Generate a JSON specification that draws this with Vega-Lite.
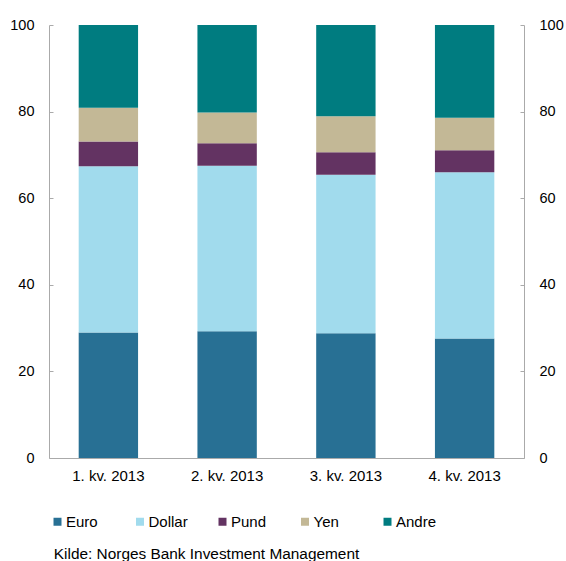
{
  "$schema": "https://vega.github.io/schema/vega-lite/v6.json",
  "width": 475,
  "height": 433,
  "autosize": {"type": "none"},
  "padding": {"left": 49, "top": 25, "right": 42, "bottom": 103},
  "background": "white",
  "config": {
    "view": {"stroke": null},
    "font": "Liberation Sans",
    "axis": {"labelFont": "Liberation Sans", "labelFontSize": 14.5, "labelColor": "#000", "grid": false, "domainColor": "#aaaaaa", "tickColor": "#aaaaaa"}
  },
  "title": {"text": "Kilde: Norges Bank Investment Management", "orient": "bottom", "anchor": "start", "fontSize": 15.4, "fontWeight": "normal", "font": "Liberation Sans", "color": "#000", "offset": 17, "dx": 44},
  "data": {"values": [
    {"kv": "1. kv. 2013", "valuta": "Euro", "o": 1, "v": 29.0},
    {"kv": "1. kv. 2013", "valuta": "Dollar", "o": 2, "v": 38.4},
    {"kv": "1. kv. 2013", "valuta": "Pund", "o": 3, "v": 5.7},
    {"kv": "1. kv. 2013", "valuta": "Yen", "o": 4, "v": 7.8},
    {"kv": "1. kv. 2013", "valuta": "Andre", "o": 5, "v": 19.1},
    {"kv": "2. kv. 2013", "valuta": "Euro", "o": 1, "v": 29.3},
    {"kv": "2. kv. 2013", "valuta": "Dollar", "o": 2, "v": 38.2},
    {"kv": "2. kv. 2013", "valuta": "Pund", "o": 3, "v": 5.2},
    {"kv": "2. kv. 2013", "valuta": "Yen", "o": 4, "v": 7.1},
    {"kv": "2. kv. 2013", "valuta": "Andre", "o": 5, "v": 20.2},
    {"kv": "3. kv. 2013", "valuta": "Euro", "o": 1, "v": 28.8},
    {"kv": "3. kv. 2013", "valuta": "Dollar", "o": 2, "v": 36.6},
    {"kv": "3. kv. 2013", "valuta": "Pund", "o": 3, "v": 5.2},
    {"kv": "3. kv. 2013", "valuta": "Yen", "o": 4, "v": 8.3},
    {"kv": "3. kv. 2013", "valuta": "Andre", "o": 5, "v": 21.1},
    {"kv": "4. kv. 2013", "valuta": "Euro", "o": 1, "v": 27.6},
    {"kv": "4. kv. 2013", "valuta": "Dollar", "o": 2, "v": 38.4},
    {"kv": "4. kv. 2013", "valuta": "Pund", "o": 3, "v": 5.1},
    {"kv": "4. kv. 2013", "valuta": "Yen", "o": 4, "v": 7.5},
    {"kv": "4. kv. 2013", "valuta": "Andre", "o": 5, "v": 21.4}
  ]},
  "encoding": {
    "x": {"field": "kv", "type": "nominal", "sort": null, "title": null,
      "scale": {"paddingInner": 0.5, "paddingOuter": 0.25},
      "axis": {"labelAngle": 0, "ticks": false, "labelPadding": 10, "labelFontSize": 15, "domainColor": "#aaaaaa"}},
    "color": {"field": "valuta", "type": "nominal", "title": null,
      "scale": {"domain": ["Euro", "Dollar", "Pund", "Yen", "Andre"], "range": ["#287094", "#a1dbed", "#633362", "#c3b896", "#007c80"]},
      "legend": {"orient": "none", "legendX": 1, "legendY": 489, "direction": "horizontal", "symbolType": "square", "symbolSize": 64, "symbolStrokeWidth": 0, "labelFontSize": 15, "labelFont": "Liberation Sans", "labelColor": "#000", "columnPadding": 25.5, "gridAlign": "all", "labelOffset": 1}},
    "order": {"field": "o", "type": "quantitative"}
  },
  "layer": [
    {
      "mark": {"type": "bar"},
      "encoding": {
        "y": {"field": "v", "type": "quantitative", "stack": "zero", "title": null,
          "scale": {"domain": [0, 100], "nice": false},
          "axis": {"orient": "left", "values": [0, 20, 40, 60, 80, 100], "tickSize": -4, "labelPadding": 19}}
      }
    },
    {
      "mark": {"type": "bar", "opacity": 0},
      "encoding": {
        "y": {"field": "v", "type": "quantitative", "stack": "zero", "title": null,
          "scale": {"domain": [0, 100], "nice": false},
          "axis": {"orient": "right", "values": [0, 20, 40, 60, 80, 100], "tickSize": -4, "labelPadding": 19}}
      }
    }
  ],
  "resolve": {"scale": {"y": "independent"}}
}
